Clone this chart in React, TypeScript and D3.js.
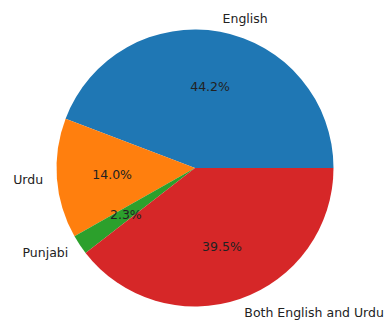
import React from "react";
import * as d3 from "d3";

const labels = ["English", "Urdu", "Punjabi", "Both English and Urdu"];
const values = [44.2, 14.0, 2.3, 39.5];
const colors = ["#1f77b4", "#ff7f0e", "#2ca02c", "#d62728"];

export default function App() {
  const W = 390, H = 320;
  const cx = 195, cy = 168, r = 138.5;
  const total = d3.sum(values);
  // matplotlib: start at 3 o'clock, counterclockwise
  const angle = d3.scaleLinear().domain([0, total]).range([0, 2 * Math.PI]);
  const cum = d3.cumsum(values);
  const slices = values.map((v, i) => {
    const a0 = angle(cum[i] - v);
    const a1 = angle(cum[i]);
    return { v, i, a0, a1 };
  });
  // convert math angle (ccw from +x) to d3 arc angle (cw from 12 o'clock)
  const toD3 = (a: number) => Math.PI / 2 - a;
  const arc = d3.arc<any>().innerRadius(0).outerRadius(r);
  const fs = 12.5;
  return (
    <svg width={W} height={H} style={{ position: "absolute", left: 0, top: 0, background: "#fff" }}
      fontFamily="DejaVu Sans" fontSize={fs}>
      <g transform={`translate(${cx},${cy})`}>
        {slices.map((s) => (
          <path key={s.i} fill={colors[s.i]}
            d={arc({ startAngle: toD3(s.a1), endAngle: toD3(s.a0) }) as string} />
        ))}
        {slices.map((s) => {
          const m = (s.a0 + s.a1) / 2;
          const x = 1.1 * r * Math.cos(m);
          const y = -1.1 * r * Math.sin(m);
          return (
            <text key={"l" + s.i} x={x} y={y} fill="#222" textAnchor={x > 0 ? "start" : "end"}
              dominantBaseline="central">{labels[s.i]}</text>
          );
        })}
        {slices.map((s) => {
          const m = (s.a0 + s.a1) / 2;
          const x = 0.6 * r * Math.cos(m);
          const y = -0.6 * r * Math.sin(m);
          return (
            <text key={"p" + s.i} x={x} y={y} fill="#222" textAnchor="middle"
              dominantBaseline="central">{d3.format(".1f")(s.v / total * 100) + "%"}</text>
          );
        })}
      </g>
    </svg>
  );
}
